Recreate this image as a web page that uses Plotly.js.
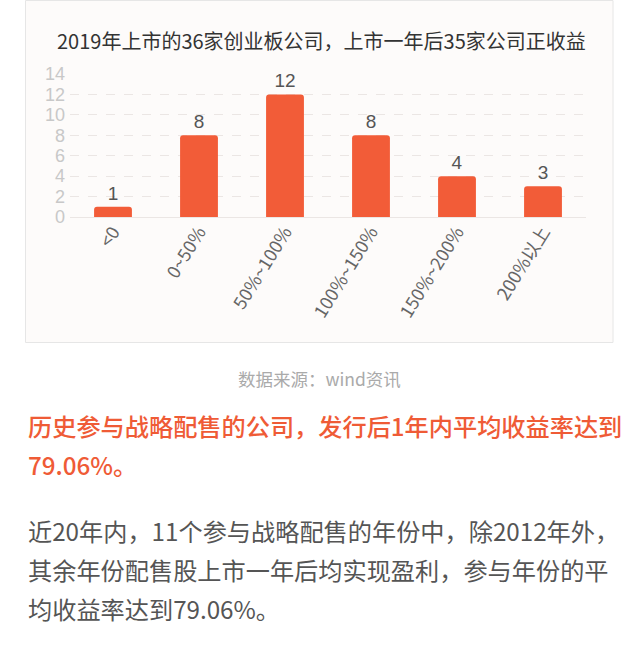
<!DOCTYPE html>
<html><head><meta charset="utf-8">
<script src="https://cdn.plot.ly/plotly-3.0.1.min.js"></script>
<style>html,body{margin:0;padding:0;background:#fff;}#chart{width:640px;height:656px;}</style>
</head><body><div id="chart"></div>
<script>
const categories = ["<0", "0~50%", "50%~100%", "100%~150%", "150%~200%", "200%以上"];
const counts = [1, 8, 12, 8, 4, 3];
const yTicks = [0, 2, 4, 6, 8, 10, 12, 14];
const titleText = "2019年上市的36家创业板公司，上市一年后35家公司正收益";
const sourceText = "数据来源：wind资讯";
const highlightLines = ["历史参与战略配售的公司，发行后1年内平均收益率达到", "79.06%。"];
const bodyLines = ["近20年内，11个参与战略配售的年份中，除2012年外，", "其余年份配售股上市一年后均实现盈利，参与年份的平", "均收益率达到79.06%。"];

const W = 640, H = 656;
const L = 70, R = 586, T = 74, B = 217;
const px = x => (x - L) / (R - L);
const py = y => (B - y) / (B - T);
const FONT = '"Liberation Sans", "Noto Sans CJK SC", sans-serif';
const CJK = '"Noto Sans CJK SC", "Liberation Sans", sans-serif';

const annotations = [
  {text: titleText, x: px(321), y: py(40), xref: 'paper', yref: 'paper', showarrow: false,
   xanchor: 'center', yanchor: 'middle', font: {family: CJK, size: 20, color: '#333'}},
  {text: sourceText, x: px(319), y: py(378), xref: 'paper', yref: 'paper', showarrow: false,
   xanchor: 'center', yanchor: 'middle', font: {family: CJK, size: 17.5, color: '#aaa'}}
];
highlightLines.forEach((t, i) => annotations.push({
  text: t, x: px(26), y: py(425 + i * 39), xref: 'paper', yref: 'paper', showarrow: false,
  xanchor: 'left', yanchor: 'middle', font: {family: CJK, size: 24.2, color: '#ef5b36', weight: 500}
}));
bodyLines.forEach((t, i) => annotations.push({
  text: t, x: px(26), y: py(530 + i * 39), xref: 'paper', yref: 'paper', showarrow: false,
  xanchor: 'left', yanchor: 'middle', font: {family: CJK, size: 24.2, color: '#555'}
}));

const data = [{
  type: 'bar', x: categories, y: counts, width: 0.44,
  marker: {color: '#f25c38', cornerradius: 3},
  text: counts.map(String), textposition: 'outside', cliponaxis: false,
  textfont: {family: FONT, size: 19, color: '#555'}, hoverinfo: 'none'
}];

const layout = {
  width: W, height: H, showlegend: false,
  paper_bgcolor: '#ffffff', plot_bgcolor: 'rgba(0,0,0,0)',
  margin: {l: L, r: W - R, t: T, b: H - B, pad: 0},
  xaxis: {type: 'category', tickangle: -58, tickfont: {family: CJK, size: 18, color: '#666'},
          showgrid: false, zeroline: false, showline: false, ticks: '', fixedrange: true},
  yaxis: {range: [0, 14], tickvals: yTicks, ticktext: yTicks.map(String),
          tickfont: {family: FONT, size: 18, color: '#c8c8c8'},
          showgrid: true, gridcolor: '#ebe6e4', griddash: 'dash', gridwidth: 1,
          zeroline: true, zerolinecolor: '#ebe6e4', showline: false, ticks: '', ticklabelstandoff: 4},
  shapes: [{type: 'rect', xref: 'paper', yref: 'paper', x0: px(25.5), x1: px(613), y0: py(342.5), y1: py(0.5),
            line: {color: '#e6e6e6', width: 1}, fillcolor: '#fdfbfa', layer: 'below'}],
  annotations: annotations
};
Plotly.newPlot('chart', data, layout, {staticPlot: true});
</script></body></html>
